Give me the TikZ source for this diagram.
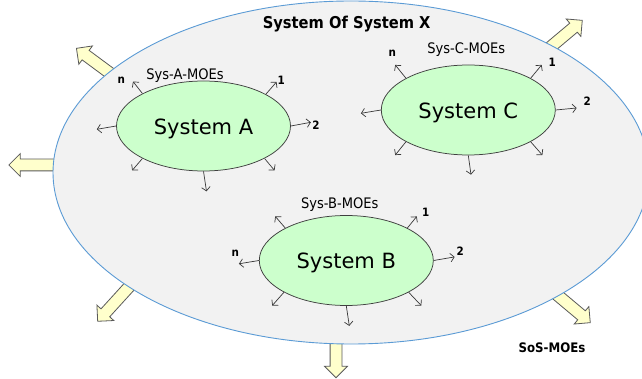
\documentclass[tikz,border=0pt]{standalone}
\usepackage{fontspec}
\usetikzlibrary{shapes.geometric,shapes.arrows,arrows.meta,calc}
\newfontfamily\sysfont{DejaVu Sans}
\newfontfamily\lblfont[FakeStretch=0.9]{DejaVu Sans}
\definecolor{sosfill}{RGB}{242,242,242}
\definecolor{sosline}{RGB}{91,155,213}
\definecolor{sysfill}{RGB}{204,255,204}
\definecolor{sysline}{RGB}{64,64,64}
\definecolor{outfill}{RGB}{255,255,204}
\definecolor{outedge}{RGB}{90,90,90}
\definecolor{moeline}{RGB}{56,56,56}
\begin{document}
\begin{tikzpicture}[x=1pt,y=-1pt,
  sosbody/.style={ellipse, draw=sosline, fill=sosfill, line width=0.9pt,
    minimum width=596pt, minimum height=343pt, inner sep=0pt},
  sysbody/.style={ellipse, draw=sysline, fill=sysfill, line width=0.75pt,
    minimum width=174pt, minimum height=90pt, inner sep=0pt, text depth=0pt,
    font=\sysfont\fontsize{21}{25}\selectfont},
  sosout/.style={single arrow, draw=outedge, fill=outfill, line width=0.8pt,
    minimum width=22pt, single arrow head extend=5.5pt,
    inner xsep=0pt, inner ysep=5.5pt, anchor=tip},
  moe/.style={draw=moeline, line width=0.7pt,
    -{Straight Barb[length=3.8pt,width=8.5pt]}},
  moelabel/.style={font=\lblfont\fontsize{14.5}{17}\selectfont, anchor=base, inner sep=0pt},
  idx/.style={font=\lblfont\bfseries\fontsize{11.5}{13}\selectfont, anchor=base, inner sep=0pt},
  heading/.style={font=\lblfont\bfseries\fontsize{16.3}{19}\selectfont, anchor=base, inner sep=0pt}
]
\useasboundingbox (0,0) rectangle (642,379);
\fill[white] (0,0) rectangle (642,379);

% outgoing SoS-level measures (drawn first, the SoS body covers their tails)
\node[sosout, rotate=143.5, minimum height=50pt] (outUL) at (76,48) {};
\node[sosout, rotate=180,   minimum height=55pt] (outL)  at (8.3,165) {};
\node[sosout, rotate=40,    minimum height=52pt] (outUR) at (582.7,20) {};
\node[sosout, rotate=227.7, minimum height=55pt] (outLL) at (97.3,321.7) {};
\node[sosout, rotate=270,   minimum height=45pt] (outB)  at (336,378.3) {};
\node[sosout, rotate=-40,   minimum height=55pt] (outLR) at (590.7,323) {};

% system of systems body
\node[sosbody] (sos) at (351,172.5) {};
\node[heading] (title) at (346.7,29) {System Of System X};

% constituent systems
\node[sysbody] (sA) at (203.5,126) {\raisebox{-0.7pt}{System A}};
\node[sysbody] (sC) at (468.3,110) {\raisebox{-0.7pt}{System C}};
\node[sysbody] (sB) at (346.3,260.5) {\raisebox{-0.7pt}{System B}};

% per-system measures of effectiveness
\foreach \s/\a/\dx/\dy [count=\i] in {
  sA/152/-9.4/-12, sA/27/10.7/-12.3, sA/0/20/-3.7, sA/180/-19.3/3.3,
  sA/208/-10.3/12, sA/270/3/20, sA/332/10/12,
  sC/153/-10.7/-13.3, sC/27/11/-13.3, sC/0/21/-2, sC/180/-20/3.3,
  sC/207/-10.7/13.3, sC/270/2.7/19.3, sC/333/11.7/13.3,
  sB/152/-10/-11.7, sB/28/9.4/-11.6, sB/0/21/-3.6, sB/180/-20/3.3,
  sB/207/-11.7/13.3, sB/270/3/20, sB/333/12.6/13.3}
{
  \coordinate (\s-m\i) at ($(\s.\a)+(\dx,\dy)$);
  \draw[moe] (\s.\a) -- (\s-m\i);
}

% labels
\node[moelabel] (labA) at (185,80) {Sys-A-MOEs};
\node[moelabel] (labC) at (466.3,54) {Sys-C-MOEs};
\node[moelabel] (labB) at (339.7,208.3) {Sys-B-MOEs};

\node[idx] (An) at (121.3,84) {n};
\node[idx] (A1) at (281.3,85) {1};
\node[idx] (A2) at (316,129.3) {2};
\node[idx] (Cn) at (392.3,56.7) {n};
\node[idx] (C1) at (552.3,66.7) {1};
\node[idx] (C2) at (587.3,106) {2};
\node[idx] (Bn) at (235.3,256) {n};
\node[idx] (B1) at (425.7,216.7) {1};
\node[idx] (B2) at (460.3,255) {2};

\node[font=\lblfont\bfseries\fontsize{13.1}{16}\selectfont, anchor=base, inner sep=0pt]
  (sosmoe) at (552,352.7) {SoS-MOEs};
\end{tikzpicture}
\end{document}
